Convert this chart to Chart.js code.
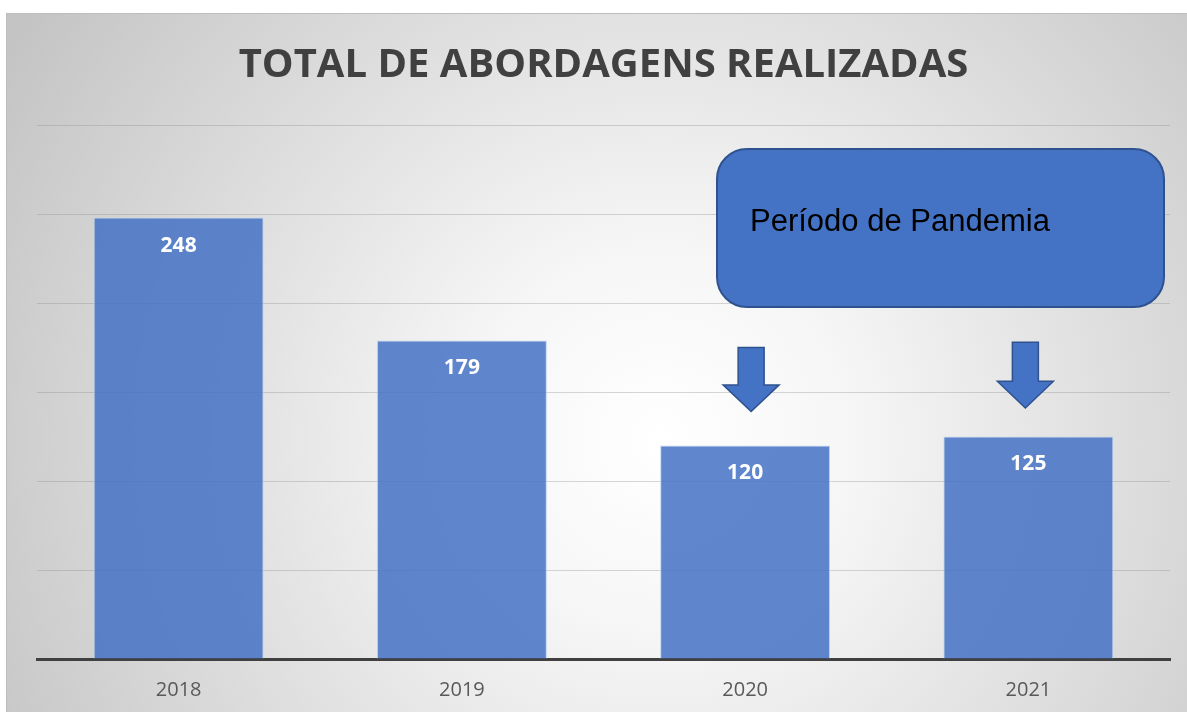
<!DOCTYPE html>
<html>
<head>
<meta charset="utf-8">
<script src="https://cdn.jsdelivr.net/npm/chart.js@4"></script>
<style>
  body { margin: 0; background: #fff; }
  #wrap { width: 1187px; height: 712px; }
</style>
</head>
<body>
<div id="wrap"><canvas id="myChart" width="1187" height="712"></canvas></div>
<script>
// dados do grafico
var anos = ['2018', '2019', '2020', '2021'];
var abordagens = [248, 179, 120, 125];
var titulo = 'TOTAL DE ABORDAGENS REALIZADAS';
var textoCaixa = 'Período de Pandemia';

// fundo com gradiente e moldura
var fundo = {
    id: 'fundo',
    beforeDraw: function (chart) {
        var c = chart.ctx;
        c.save();
        c.fillStyle = '#ffffff';
        c.fillRect(0, 0, chart.width, chart.height);
        var g = c.createRadialGradient(660, 440, 0, 660, 440, 760);
        g.addColorStop(0, '#ffffff');
        g.addColorStop(0.25, '#f6f6f6');
        g.addColorStop(1, '#c4c4c4');
        c.fillStyle = g;
        c.fillRect(6, 13, chart.width - 6, chart.height - 13);
        c.strokeStyle = '#bdbdbd';
        c.lineWidth = 1;
        c.beginPath();
        c.moveTo(6.5, chart.height);
        c.lineTo(6.5, 13.5);
        c.lineTo(chart.width, 13.5);
        c.stroke();
        c.restore();
    }
};

// rotulos dentro das barras
var rotulos = {
    id: 'rotulos',
    afterDatasetsDraw: function (chart) {
        var c = chart.ctx;
        var meta = chart.getDatasetMeta(0);
        c.save();
        c.fillStyle = '#ffffff';
        c.font = 'bold 21px "Open Sans"';
        c.textAlign = 'center';
        c.textBaseline = 'middle';
        meta.data.forEach(function (bar, i) {
            c.fillText(String(abordagens[i]), bar.x, bar.y + 28);
        });
        c.restore();
    }
};

function seta(c, cx, yTop, yHead, yTip) {
    c.beginPath();
    c.moveTo(cx - 13, yTop);
    c.lineTo(cx + 13, yTop);
    c.lineTo(cx + 13, yHead);
    c.lineTo(cx + 28, yHead);
    c.lineTo(cx, yTip);
    c.lineTo(cx - 28, yHead);
    c.lineTo(cx - 13, yHead);
    c.closePath();
    c.fill();
    c.stroke();
}

// caixa "Periodo de Pandemia" e setas
var anotacao = {
    id: 'anotacao',
    afterDraw: function (chart) {
        var c = chart.ctx;
        var x = chart.scales.x;
        var y = chart.scales.y;
        c.save();
        c.fillStyle = '#4472C4';
        c.strokeStyle = '#2F528F';
        c.lineWidth = 2;
        c.beginPath();
        c.roundRect(717, 149, 447, 158, 30);
        c.fill();
        c.stroke();
        c.fillStyle = '#000000';
        c.font = '31px "Liberation Sans"';
        c.textAlign = 'left';
        c.textBaseline = 'alphabetic';
        c.fillText(textoCaixa, 750, 231);

        c.fillStyle = '#4472C4';
        c.strokeStyle = '#2F528F';
        c.lineWidth = 1.5;
        seta(c, x.getPixelForValue(2) + 6, y.getPixelForValue(175), y.getPixelForValue(154), y.getPixelForValue(139));
        seta(c, x.getPixelForValue(3) - 3, y.getPixelForValue(178), y.getPixelForValue(156), y.getPixelForValue(141));
        c.restore();
    }
};

var ctx = document.getElementById('myChart').getContext('2d');
var chart = new Chart(ctx, {
    type: 'bar',
    data: {
        labels: anos,
        datasets: [{
            label: 'Abordagens',
            data: abordagens,
            backgroundColor: 'rgba(68, 114, 196, 0.85)',
            borderColor: 'rgba(190, 210, 240, 0.9)',
            borderWidth: 1,
            borderSkipped: 'bottom',
            categoryPercentage: 0.6,
            barPercentage: 1
        }]
    },
    options: {
        responsive: false,
        animation: false,
        layout: { padding: { left: 37, right: 17, top: 0, bottom: 10 } },
        plugins: {
            legend: { display: false },
            tooltip: { enabled: false },
            title: {
                display: true,
                text: titulo,
                color: '#404040',
                font: { family: 'Open Sans', size: 40, weight: 'bold', lineHeight: 1.2 },
                padding: { top: 42, bottom: 35 }
            }
        },
        scales: {
            x: {
                grid: { display: false, drawTicks: false },
                border: { color: '#404040', width: 3 },
                ticks: { color: '#595959', font: { family: 'Open Sans', size: 20 }, padding: 19 },
                afterFit: function (axis) { axis.height = 43; }
            },
            y: {
                min: 0,
                max: 300,
                ticks: { display: false, stepSize: 50 },
                grid: { color: 'rgba(140, 140, 140, 0.35)', lineWidth: 1, drawTicks: false },
                border: { display: false }
            }
        }
    },
    plugins: [fundo, rotulos, anotacao]
});
</script>
</body>
</html>
